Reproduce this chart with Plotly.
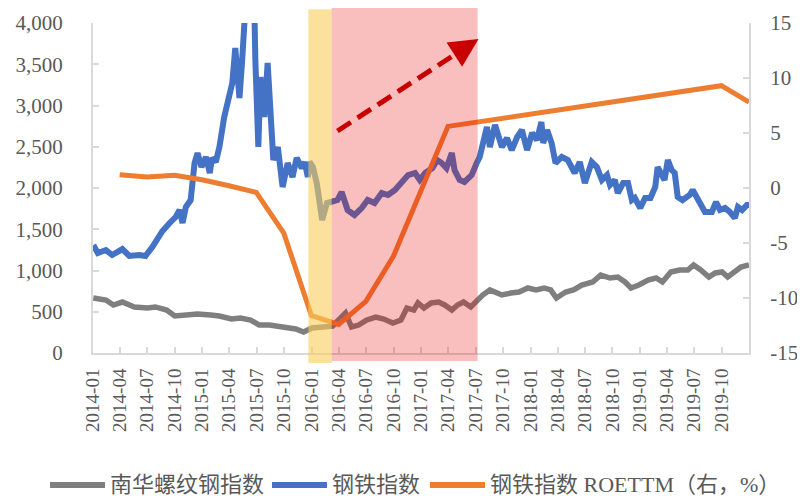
import plotly.graph_objects as go

# ---------------- data ----------------
gray_dates = [
    "2014-01-02", "2014-02-13", "2014-03-10", "2014-04-09", "2014-05-19", "2014-07-02",
    "2014-07-28", "2014-09-04", "2014-10-01", "2014-11-07", "2014-12-16", "2015-01-29",
    "2015-02-27", "2015-04-08", "2015-05-08", "2015-06-11", "2015-07-10", "2015-08-13",
    "2015-09-26", "2015-11-09", "2015-12-05", "2016-01-02", "2016-02-08", "2016-03-11",
    "2016-04-23", "2016-05-13", "2016-06-06", "2016-07-03", "2016-08-02", "2016-08-29",
    "2016-09-28", "2016-10-25", "2016-11-14", "2016-12-07", "2016-12-21", "2017-01-10",
    "2017-02-03", "2017-02-28", "2017-03-20", "2017-04-13", "2017-05-02", "2017-05-22",
    "2017-06-15", "2017-07-05", "2017-07-25", "2017-08-18", "2017-09-07", "2017-09-27",
    "2017-10-27", "2017-11-23", "2017-12-23", "2018-01-19", "2018-02-15", "2018-03-09",
    "2018-03-28", "2018-04-28", "2018-05-24", "2018-06-21", "2018-07-27", "2018-08-23",
    "2018-09-23", "2018-10-19", "2018-11-12", "2018-12-02", "2018-12-28", "2019-01-28",
    "2019-02-24", "2019-03-17", "2019-04-14", "2019-05-13", "2019-06-10", "2019-06-29",
    "2019-07-23", "2019-08-19", "2019-09-09", "2019-10-02", "2019-10-21", "2019-11-11",
    "2019-12-04", "2019-12-31",
]
gray_values = [
    667, 642, 582, 618, 558, 545,
    558, 521, 448, 461, 473, 461,
    448, 412, 424, 400, 339, 339,
    315, 291, 255, 303, 315, 327,
    485, 315, 339, 400, 436, 412,
    364, 400, 545, 521, 606, 545,
    606, 618, 582, 521, 582, 618,
    558, 642, 703, 764, 739, 703,
    727, 739, 788, 764, 788, 764,
    667, 739, 764, 824, 861, 945,
    909, 921, 861, 788, 824, 885,
    909, 861, 982, 1006, 1006, 1067,
    1006, 921, 970, 982, 921, 970,
    1042, 1067,
]

blue_dates = [
    "2014-01-02", "2014-01-17", "2014-02-13", "2014-03-06", "2014-04-09", "2014-05-02",
    "2014-06-05", "2014-06-25", "2014-07-18", "2014-08-05", "2014-08-21", "2014-09-14",
    "2014-10-04", "2014-10-17", "2014-10-27", "2014-11-07", "2014-11-23", "2014-12-06",
    "2014-12-16", "2014-12-29", "2015-01-13", "2015-01-26", "2015-02-02", "2015-02-15",
    "2015-02-27", "2015-03-15", "2015-04-02", "2015-04-11", "2015-04-21", "2015-05-05",
    "2015-05-14", "2015-05-24", "2015-06-07", "2015-06-24", "2015-06-27", "2015-07-07",
    "2015-07-14", "2015-07-27", "2015-08-07", "2015-08-13", "2015-08-23", "2015-08-26",
    "2015-09-10", "2015-09-26", "2015-10-13", "2015-10-29", "2015-11-12", "2015-11-29",
    "2015-12-09", "2015-12-19", "2015-12-25", "2016-01-05", "2016-01-18", "2016-02-05",
    "2016-02-21", "2016-03-08", "2016-03-27", "2016-04-10", "2016-04-30", "2016-05-23",
    "2016-06-16", "2016-07-06", "2016-07-29", "2016-08-22", "2016-09-12", "2016-10-05",
    "2016-10-28", "2016-11-18", "2016-12-11", "2016-12-27", "2017-01-14", "2017-02-07",
    "2017-02-23", "2017-03-10", "2017-03-26", "2017-04-13", "2017-04-22", "2017-05-09",
    "2017-05-25", "2017-06-18", "2017-07-05", "2017-07-15", "2017-08-08", "2017-08-18",
    "2017-09-04", "2017-09-14", "2017-09-27", "2017-10-14", "2017-10-30", "2017-11-17",
    "2017-12-03", "2017-12-20", "2018-01-06", "2018-01-22", "2018-02-06", "2018-02-12",
    "2018-02-25", "2018-03-12", "2018-03-25", "2018-04-15", "2018-05-05", "2018-05-28",
    "2018-06-14", "2018-07-01", "2018-07-24", "2018-08-10", "2018-08-27", "2018-09-13",
    "2018-09-23", "2018-10-09", "2018-10-19", "2018-11-06", "2018-11-22", "2018-12-05",
    "2018-12-15", "2019-01-02", "2019-01-18", "2019-02-05", "2019-02-21", "2019-03-01",
    "2019-03-14", "2019-03-24", "2019-04-04", "2019-04-17", "2019-04-27", "2019-05-07",
    "2019-05-23", "2019-06-16", "2019-06-26", "2019-07-13", "2019-08-06", "2019-08-29",
    "2019-09-12", "2019-09-25", "2019-10-12", "2019-10-28", "2019-11-14", "2019-11-24",
    "2019-12-08", "2019-12-24", "2019-12-31",
]
blue_values = [
    1309, 1212, 1248, 1188, 1260, 1176,
    1188, 1176, 1285, 1406, 1479, 1576,
    1648, 1733, 1576, 1770, 1854, 2303,
    2424, 2254, 2376, 2182, 2364, 2315,
    2497, 2860, 3103, 3272, 3697, 3091,
    3551, 4150, 4200, 4100, 3551, 2497,
    3345, 2860, 3515, 3151, 2424, 2339,
    2497, 2012, 2303, 2133, 2364, 2242,
    2315, 2133, 2315, 2254, 2060, 1612,
    1818, 1830, 1854, 1951, 1733, 1673,
    1757, 1854, 1818, 1939, 1915, 1976,
    2060, 2157, 2182, 2097, 2182, 2242,
    2339, 2303, 2242, 2424, 2218, 2097,
    2073, 2157, 2303, 2376, 2739, 2497,
    2764, 2618, 2497, 2606, 2460, 2618,
    2703, 2460, 2667, 2582, 2800, 2545,
    2703, 2545, 2303, 2376, 2339, 2182,
    2315, 2060, 2315, 2254, 2097, 2157,
    2036, 2097, 1939, 2060, 2060, 1854,
    1879, 1757, 1879, 1879, 2012, 2254,
    2157, 2097, 2339, 2218, 2182, 1891,
    1854, 1915, 1976, 1854, 1709, 1709,
    1830, 1733, 1757, 1709, 1636, 1770,
    1733, 1794, 1794,
]

roe_dates = [
    "2014-03-31", "2014-06-30", "2014-09-30", "2014-12-31", "2015-03-31", "2015-06-30",
    "2015-09-30", "2015-12-31", "2016-03-31", "2016-06-30", "2016-09-30", "2016-12-31",
    "2017-03-31", "2019-09-30", "2019-12-31",
]
roe_values = [1.2, 1.0, 1.15, 0.75, 0.2, -0.4, -4.1, -11.6, -12.4, -10.3, -6.2, -0.1, 5.6, 9.3, 7.8]

series_names = ["南华螺纹钢指数", "钢铁指数", "钢铁指数 ROETTM（右，%）"]
left_ticks = [0, 500, 1000, 1500, 2000, 2500, 3000, 3500, 4000]
left_tick_text = ["0", "500", "1,000", "1,500", "2,000", "2,500", "3,000", "3,500", "4,000"]
right_ticks = [-15, -10, -5, 0, 5, 10, 15]
right_tick_text = ["-15", "-10", "-5", "0", "5", "10", "15"]

yellow_span = ["2015-12-21", "2016-03-08"]
pink_span = ["2016-03-08", "2017-07-08"]
arrow_start = ["2016-03-27", 2691]
arrow_body_end = ["2017-05-30", 3706]
arrow_tip = ["2017-07-11", 3806]

# ---------------- figure ----------------
GRAY = "#7F7F7F"
BLUE = "#4472C4"
ORANGE = "#ED7D31"
TXT = "#595959"
AXL = "#D9D9D9"
FONT = "Liberation Serif, Noto Sans CJK SC, serif"
colors = [GRAY, BLUE, ORANGE]

fig = go.Figure()
fig.add_trace(go.Scatter(x=gray_dates, y=gray_values, name=series_names[0], mode="lines",
                         line=dict(color=GRAY, width=5.5)))
fig.add_trace(go.Scatter(x=blue_dates, y=blue_values, name=series_names[1], mode="lines",
                         line=dict(color=BLUE, width=6)))
fig.add_trace(go.Scatter(x=roe_dates, y=roe_values, name=series_names[2], mode="lines",
                         line=dict(color=ORANGE, width=5), yaxis="y2"))

fig.add_shape(type="rect", xref="x", yref="paper", x0=yellow_span[0], x1=yellow_span[1],
              y0=-0.03, y1=1.042, fillcolor="rgba(250,205,90,0.6)", line_width=0, layer="above")
fig.add_shape(type="rect", xref="x", yref="paper", x0=pink_span[0], x1=pink_span[1],
              y0=-0.024, y1=1.048, fillcolor="rgba(230,0,0,0.255)", line_width=0, layer="above")
fig.add_shape(type="line", xref="x", yref="y", x0=arrow_start[0], y0=arrow_start[1],
              x1=arrow_body_end[0], y1=arrow_body_end[1],
              line=dict(color="#C80000", width=5, dash="16px,8px"), layer="above")
fig.add_annotation(x=arrow_tip[0], y=arrow_tip[1], xref="x", yref="y", text="",
                   showarrow=True, arrowhead=2, arrowsize=1.15, arrowwidth=5,
                   arrowcolor="#C80000", ax=-14, ay=9, standoff=0)

# legend drawn below the plot (line sample + label for each series)
legend_y = -0.40
legend_items = [(-0.0655, 0.0183), (0.2729, 0.3567), (0.5137, 0.5976)]
for (lx0, lx1), name, col in zip(legend_items, series_names, colors):
    fig.add_shape(type="line", xref="paper", yref="paper", x0=lx0, x1=lx1,
                  y0=legend_y, y1=legend_y, line=dict(color=col, width=6))
    fig.add_annotation(xref="paper", yref="paper", x=lx1 + 0.0046, y=legend_y, text=name,
                       showarrow=False, xanchor="left", yanchor="middle",
                       font=dict(family=FONT, size=22, color=TXT))

# page body has an 8px margin, so the figure is sized/offset to compensate
fig.update_layout(
    width=797, height=490,
    margin=dict(l=85, r=56, t=15, b=145, autoexpand=False),
    paper_bgcolor="white", plot_bgcolor="white",
    font=dict(family=FONT, size=21, color=TXT),
    showlegend=False,
    xaxis=dict(type="date", range=["2014-01-01", "2019-12-31"], tick0="2014-01-01", dtick="M3",
               tickformat="%Y-%m", tickangle=-90, showgrid=False, zeroline=False,
               showline=True, linecolor=AXL, linewidth=2, ticks="inside", ticklen=6,
               tickcolor=AXL, tickwidth=1.5, tickfont=dict(size=19, color=TXT),
               ticklabelstandoff=6, automargin=False),
    yaxis=dict(range=[0, 4000], tickvals=left_ticks, ticktext=left_tick_text, showgrid=False,
               zeroline=False, showline=True, linecolor=AXL, linewidth=2, ticks="inside",
               ticklen=6, tickcolor=AXL, tickwidth=1.5, tickfont=dict(size=21, color=TXT),
               ticklabelstandoff=24, automargin=False),
    yaxis2=dict(range=[-15, 15], tickvals=right_ticks, ticktext=right_tick_text,
                overlaying="y", side="right", showgrid=False, zeroline=False, showline=True,
                linecolor=AXL, linewidth=2, ticks="inside", ticklen=6, tickcolor=AXL,
                tickwidth=1.5, tickfont=dict(size=21, color=TXT), ticklabelstandoff=15,
                automargin=False),
)

fig.write_html("out.html")
